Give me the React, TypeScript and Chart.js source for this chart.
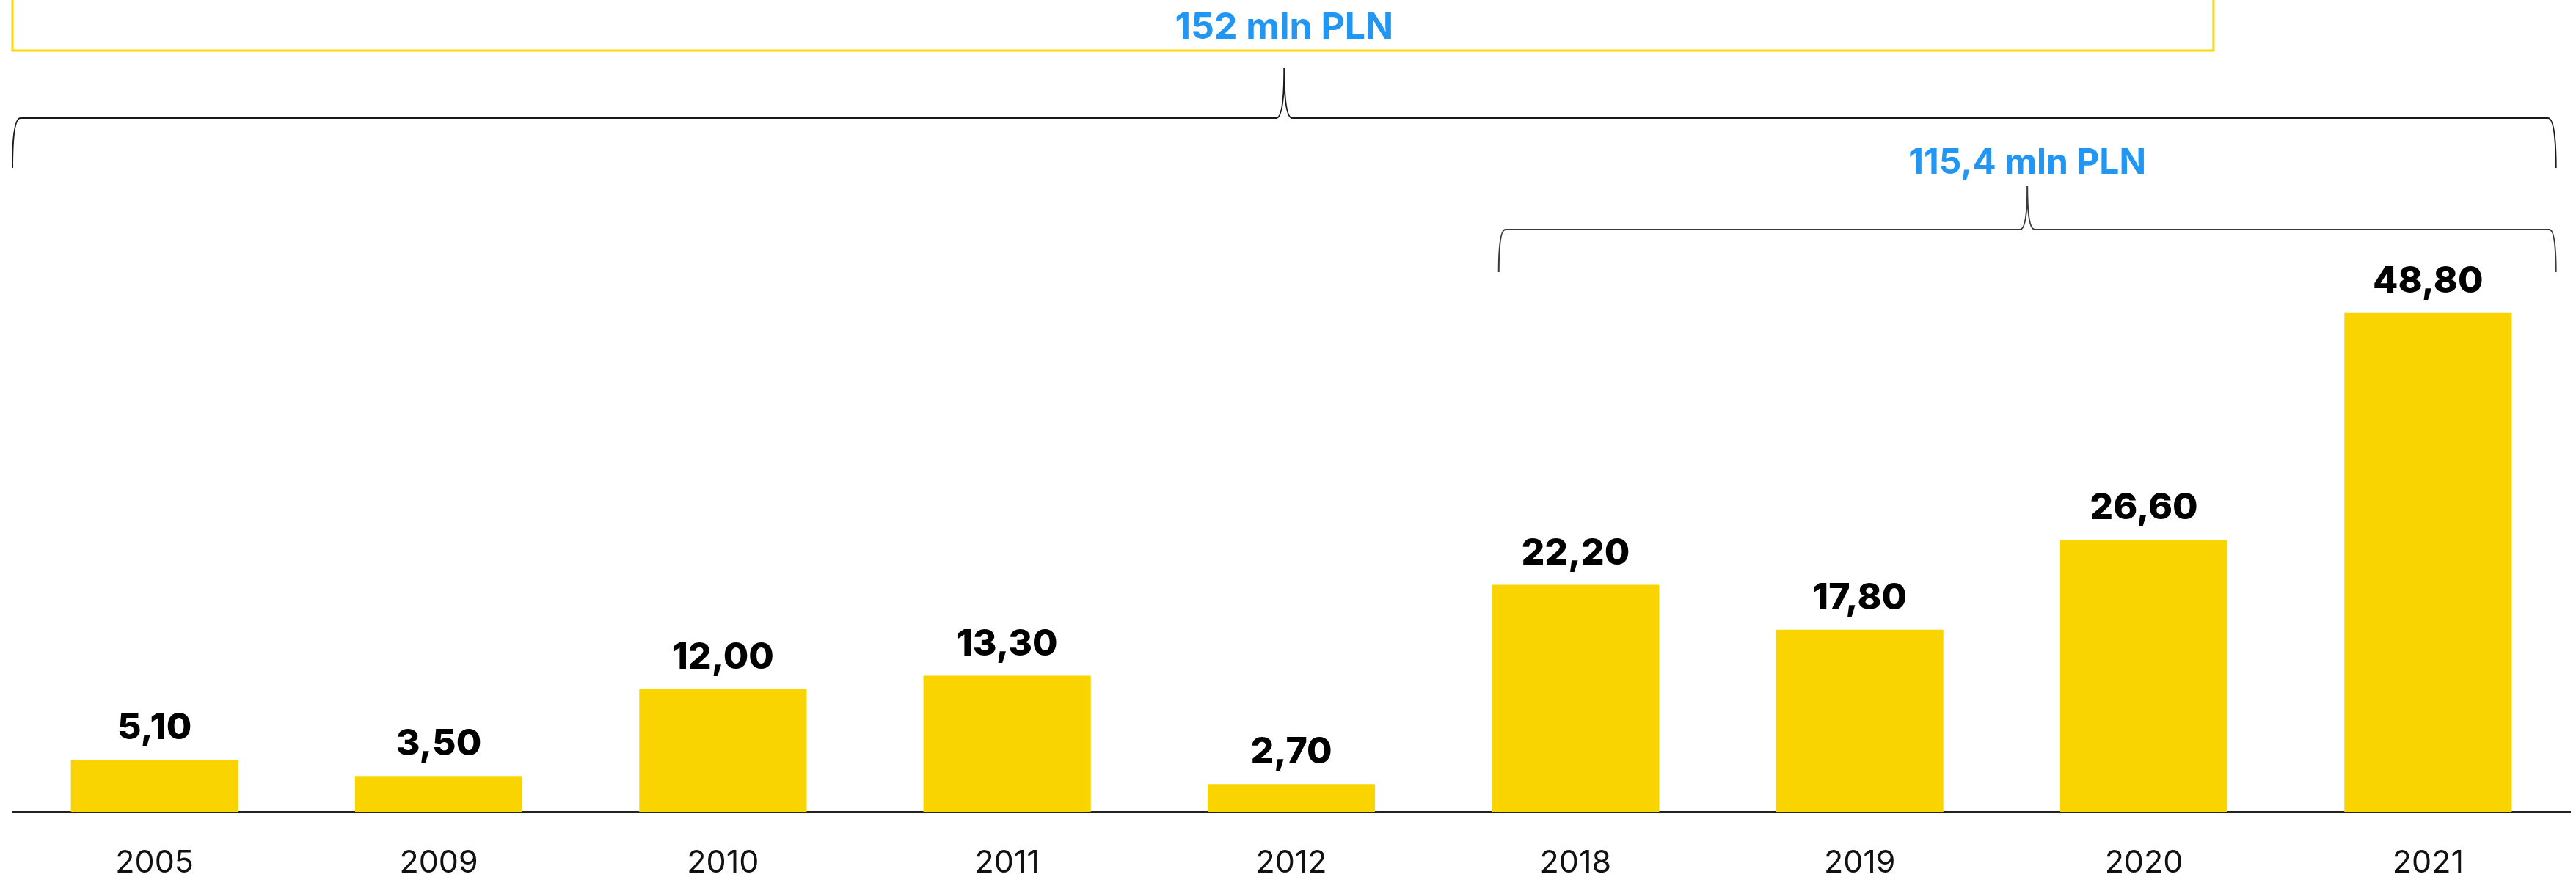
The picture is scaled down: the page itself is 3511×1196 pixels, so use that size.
import React, { useEffect, useRef } from "react";
import { Chart, registerables } from "chart.js";

Chart.register(...registerables);

// Yearly amounts (mln PLN)
const years = ["2005", "2009", "2010", "2011", "2012", "2018", "2019", "2020", "2021"];
const amounts = [5.1, 3.5, 12.0, 13.3, 2.7, 22.2, 17.8, 26.6, 48.8];

// Summary braces: first and last category index covered by each bracket
const braceFrom = [0, 5];
const braceTo = [8, 8];
const unitLabel = "mln PLN";

const BAR_COLOR = "#FAD400";
const FRAME_COLOR = "#FDD800";
const TOTAL_COLOR = "#2196F3";
const FONT = "Inter, 'Noto Sans', sans-serif";

const formatValue = (v: number) => v.toFixed(2).replace(".", ",");
const formatTotal = (v: number) => {
  const r = Math.round(v * 10) / 10;
  return (Number.isInteger(r) ? String(r) : r.toFixed(1)).replace(".", ",");
};

// Geometry of each bracket level (pixels on the canvas)
const braceStyles = [
  { leftEdge: -0.5, rightEdge: 0.45, yLine: 161, drop: 68, rise: 68, end: 11, tip: 11, textY: 53, textSize: 50, color: "#1a1a1a" },
  { leftEdge: -0.27, rightEdge: 0.45, yLine: 313, drop: 58, rise: 60, end: 9, tip: 10, textY: 237, textSize: 48, color: "#3a3a3a" },
];

function drawBrace(
  ctx: CanvasRenderingContext2D,
  xL: number,
  xR: number,
  y: number,
  drop: number,
  rise: number,
  end: number,
  tip: number
) {
  const xM = (xL + xR) / 2;
  ctx.beginPath();
  ctx.moveTo(xL, y + drop);
  ctx.quadraticCurveTo(xL, y, xL + end, y);
  ctx.lineTo(xM - tip, y);
  ctx.quadraticCurveTo(xM, y, xM, y - rise);
  ctx.quadraticCurveTo(xM, y, xM + tip, y);
  ctx.lineTo(xR - end, y);
  ctx.quadraticCurveTo(xR, y, xR, y + drop);
  ctx.stroke();
}

const valueLabels = {
  id: "valueLabels",
  afterDatasetsDraw(chart: any) {
    const ctx = chart.ctx as CanvasRenderingContext2D;
    const meta = chart.getDatasetMeta(0);
    const data = chart.data.datasets[0].data as number[];
    ctx.save();
    ctx.fillStyle = "#000";
    ctx.font = `800 50px ${FONT}`;
    ctx.textAlign = "center";
    ctx.textBaseline = "alphabetic";
    meta.data.forEach((bar: any, i: number) => {
      ctx.fillText(formatValue(data[i]), bar.x, bar.y - 28);
    });
    ctx.restore();
  },
};

const bracesPlugin = {
  id: "braces",
  afterDraw(chart: any) {
    const ctx = chart.ctx as CanvasRenderingContext2D;
    const x = chart.scales.x;
    const data = chart.data.datasets[0].data as number[];

    ctx.save();
    // frame around the overall total
    const frameLeft = chart.chartArea.left;
    const frameRight = x.getPixelForValue(7.245);
    ctx.strokeStyle = FRAME_COLOR;
    ctx.lineWidth = 3;
    ctx.strokeRect(frameLeft, -20, frameRight - frameLeft, 89);

    braceFrom.forEach((from, k) => {
      const to = braceTo[k];
      const s = braceStyles[k];
      const xL = x.getPixelForValue(from + s.leftEdge);
      const xR = x.getPixelForValue(to + s.rightEdge);
      ctx.strokeStyle = s.color;
      ctx.lineWidth = 2;
      drawBrace(ctx, xL, xR, s.yLine, s.drop, s.rise, s.end, s.tip);

      const total = data.slice(from, to + 1).reduce((a, b) => a + b, 0);
      ctx.fillStyle = TOTAL_COLOR;
      ctx.font = `bold ${s.textSize}px ${FONT}`;
      ctx.textAlign = "center";
      ctx.textBaseline = "alphabetic";
      ctx.fillText(`${formatTotal(total)} ${unitLabel}`, (xL + xR) / 2, s.textY);
    });
    ctx.restore();
  },
};

export default function App() {
  const canvasRef = useRef<HTMLCanvasElement | null>(null);

  useEffect(() => {
    document.body.style.margin = "0";
    const canvas = canvasRef.current;
    if (!canvas) return;
    const chart = new Chart(canvas, {
      type: "bar",
      data: {
        labels: years,
        datasets: [
          {
            data: amounts,
            backgroundColor: BAR_COLOR,
            borderWidth: 0,
            categoryPercentage: 1,
            barPercentage: 0.589,
          },
        ],
      },
      options: {
        responsive: false,
        animation: false,
        devicePixelRatio: 1,
        layout: { padding: { left: 17, right: 8, top: 410, bottom: -52 } },
        plugins: {
          legend: { display: false },
          tooltip: { enabled: false },
        },
        scales: {
          x: {
            grid: { display: false, drawTicks: false },
            border: { display: true, color: "#222", width: 3 },
            ticks: {
              color: "#111",
              padding: 49,
              font: { family: FONT, size: 43, lineHeight: 1 },
            },
          },
          y: { display: false, min: 0, max: 50 },
        },
      },
      plugins: [valueLabels, bracesPlugin],
    });
    return () => chart.destroy();
  }, []);

  return (
    <div style={{ width: 3511, height: 1196, background: "#fff" }}>
      <canvas ref={canvasRef} width={3511} height={1196} style={{ display: "block" }} />
    </div>
  );
}
